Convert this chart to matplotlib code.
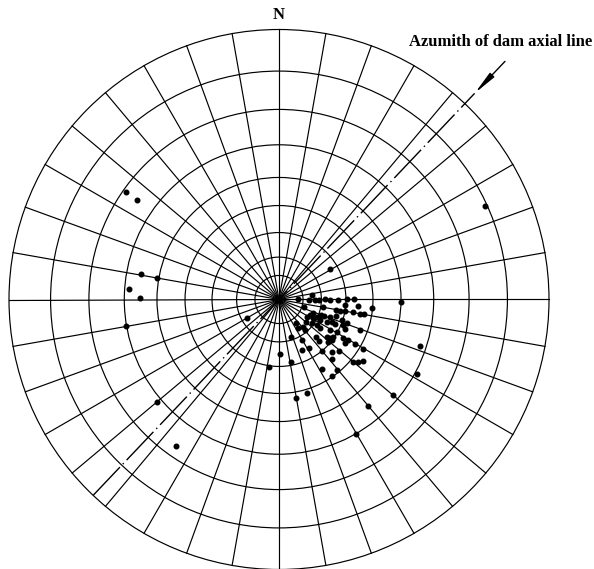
import matplotlib
matplotlib.use("Agg")
import matplotlib.pyplot as plt
from matplotlib.patches import Circle
import numpy as np

plt.rcParams["font.family"] = ["Liberation Serif", "DejaVu Serif"]

# net rings (projected radius, outer circle = 1) and spokes every 10 deg
ring_radius = [0.089, 0.157, 0.248, 0.348, 0.452, 0.573, 0.704, 0.846, 1.0]
spoke_azimuth = np.arange(0, 360, 10)

dam_axis_azimuth = 43.5
dam_axis_label = "Azumith of dam axial line"

# poles, projected east / north coordinates on the net
pole_east = [
    -0.567, -0.525, -0.512, -0.451, -0.556, -0.515, -0.567, -0.451, -0.381, 0.764, 0.189,
    0.121, 0.071, 0.112, 0.133, 0.149, 0.170, 0.189, 0.220, 0.251, 0.278, 0.451,
    0.093, 0.164, 0.244, 0.291, 0.343, 0.211, 0.226, 0.244, 0.275, 0.300, 0.315,
    0.125, 0.115, 0.154, -0.120, 0.105, 0.127, 0.142, 0.167, 0.189, 0.211, 0.233,
    0.251, 0.177, 0.195, 0.152, 0.100, 0.121, 0.142, 0.063, 0.207, 0.236, 0.244,
    0.300, 0.152, 0.088, 0.071, 0.096, 0.189, 0.214, 0.043, 0.084, 0.137, 0.179,
    0.189, 0.201, 0.183, 0.195, 0.238, 0.257, 0.244, 0.281, 0.149, 0.112, 0.084,
    0.158, 0.195, 0.223, 0.310, 0.522, 0.004, 0.195, 0.043, 0.275, 0.294, 0.312,
    -0.036, 0.158, 0.216, 0.195, 0.510, 0.063, 0.105, 0.421, 0.331, 0.285,
]
pole_north = [
    0.399, 0.369, 0.093, 0.081, 0.038, 0.004, -0.097, -0.380, -0.541, 0.347, 0.113,
    0.017, 0.001, -0.002, -0.002, -0.002, 0.001, -0.002, -0.002, 0.001, 0.001, -0.009,
    -0.027, -0.027, -0.020, -0.024, -0.033, -0.039, -0.041, -0.043, -0.045, -0.054, -0.054,
    -0.049, -0.057, -0.057, -0.067, -0.066, -0.070, -0.066, -0.061, -0.066, -0.061, -0.076,
    -0.086, -0.082, -0.082, -0.076, -0.082, -0.088, -0.094, -0.088, -0.091, -0.094, -0.110,
    -0.113, -0.107, -0.101, -0.107, -0.113, -0.113, -0.119, -0.140, -0.150, -0.140, -0.138,
    -0.144, -0.138, -0.156, -0.150, -0.144, -0.150, -0.162, -0.165, -0.153, -0.181, -0.187,
    -0.190, -0.193, -0.190, -0.183, -0.171, -0.202, -0.220, -0.233, -0.230, -0.230, -0.228,
    -0.251, -0.259, -0.261, -0.283, -0.276, -0.365, -0.346, -0.353, -0.393, -0.497,
]


def main() -> None:
    fig = plt.figure(figsize=(5.94, 5.69), dpi=100)
    ax = fig.add_axes([0, 0, 1, 1])
    ax.set_xlim(-279 / 270, 315 / 270)
    ax.set_ylim(-269.5 / 270, 299.5 / 270)
    ax.axis("off")

    for r in ring_radius:
        ax.add_patch(Circle((0, 0), r, fill=False, edgecolor="black", lw=0.85))

    for az in np.radians(spoke_azimuth):
        ax.plot([0, np.sin(az)], [0, np.cos(az)], color="black", lw=0.85)

    a = np.radians(dam_axis_azimuth)
    s, c = np.sin(a), np.cos(a)
    ax.plot([-s, s], [-c, c], color="black", lw=1.0, dashes=(28, 3, 1, 3))
    ax.plot([1.0 * s, 1.05 * s], [1.0 * c, 1.05 * c], color="black", lw=1.0)
    ax.annotate(
        "",
        xy=(1.043 * s, 1.043 * c),
        xytext=(1.226 * s, 1.226 * c),
        arrowprops=dict(arrowstyle="-|>,head_length=1.4,head_width=0.18", color="black", lw=1.0),
    )

    ax.plot(pole_east, pole_north, "o", color="black", markersize=3.3, zorder=5)

    ax.text(0, 1.054, "N", ha="center", va="center", fontsize=12, fontweight="bold")
    ax.text(0.822, 0.952, dam_axis_label, ha="center", va="center", fontsize=12, fontweight="bold")

    fig.savefig("out.png", dpi=100)
    plt.close(fig)


if __name__ == "__main__":
    main()
